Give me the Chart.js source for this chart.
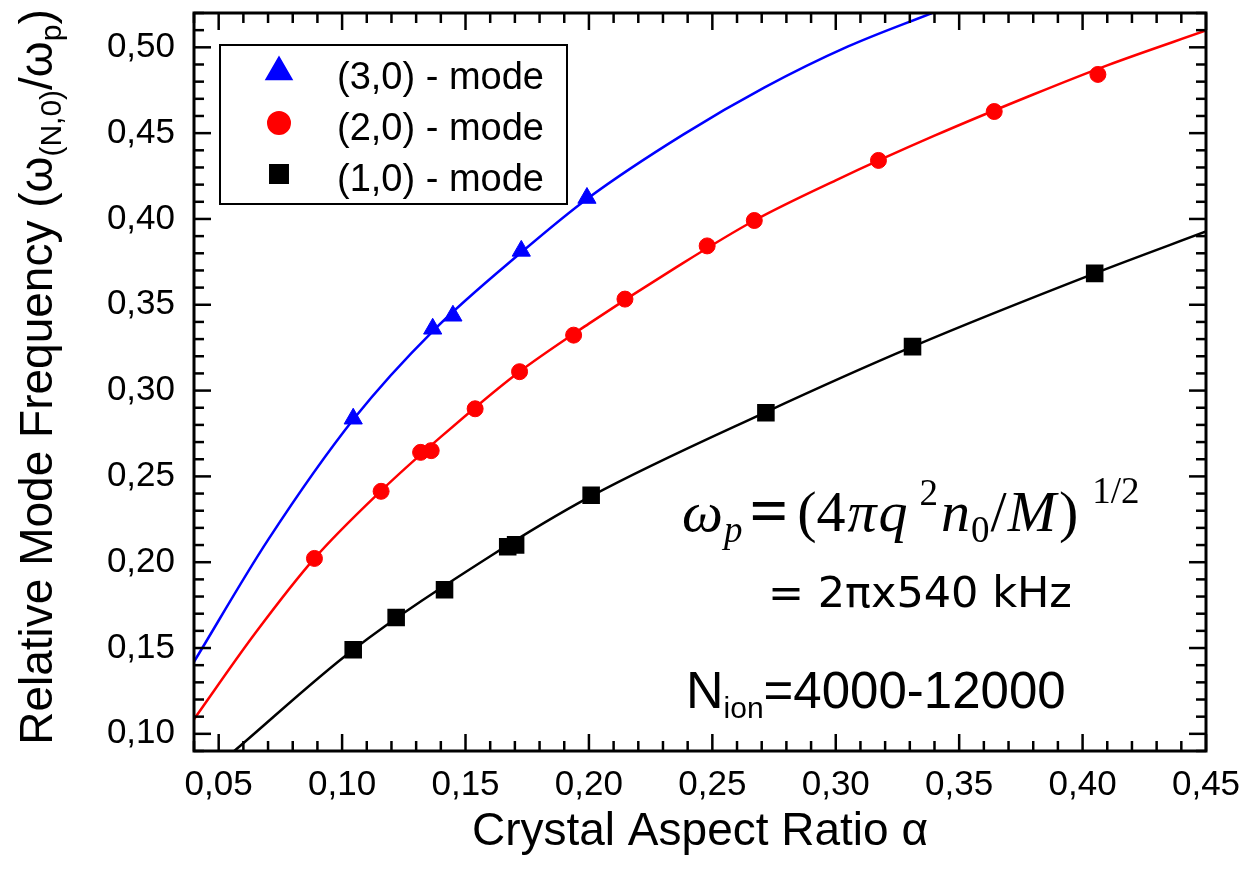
<!DOCTYPE html>
<html>
<head>
<meta charset="utf-8">
<script src="https://cdn.jsdelivr.net/npm/chart.js@4/dist/chart.umd.min.js"></script>
<style>
html,body{margin:0;padding:0;background:#fff;}
#wrap{position:relative;width:1249px;height:879px;}
</style>
</head>
<body>
<div id="wrap"><canvas id="c" width="1249" height="879"></canvas></div>
<script>
// ---------- data ----------
const xTickValues = [0.05, 0.10, 0.15, 0.20, 0.25, 0.30, 0.35, 0.40, 0.45];
const yTickValues = [0.10, 0.15, 0.20, 0.25, 0.30, 0.35, 0.40, 0.45, 0.50];

const seriesLabels = ['(3,0) - mode', '(2,0) - mode', '(1,0) - mode'];

const mode30Alpha = [0.1045, 0.1367, 0.1449, 0.1726, 0.1992];
const mode30Freq  = [0.2836, 0.3360, 0.3436, 0.3814, 0.4122];

const mode20Alpha = [0.0888, 0.1158, 0.1318, 0.1361, 0.1539, 0.1719, 0.1938, 0.2146, 0.2479, 0.2670, 0.3173, 0.3642, 0.4062];
const mode20Freq  = [0.2022, 0.2413, 0.2640, 0.2650, 0.2894, 0.3110, 0.3323, 0.3533, 0.3843, 0.3991, 0.4341, 0.4626, 0.4842];

const mode10Alpha = [0.1045, 0.1219, 0.1415, 0.1671, 0.1703, 0.2009, 0.2717, 0.3311, 0.4049];
const mode10Freq  = [0.1490, 0.1678, 0.1840, 0.2090, 0.2101, 0.2390, 0.2871, 0.3256, 0.3683];

// fitted curves
const fit30Alpha = [0.040, 0.070, 0.105, 0.137, 0.173, 0.200, 0.238, 0.271, 0.305, 0.339];
const fit30Freq  = [0.142, 0.213, 0.284, 0.335, 0.381, 0.4125, 0.449, 0.4765, 0.5005, 0.520];

const fit20Alpha = [0.040, 0.065, 0.0888, 0.115, 0.140, 0.170, 0.200, 0.235, 0.267, 0.300, 0.340, 0.380, 0.410, 0.450];
const fit20Freq  = [0.1085, 0.159, 0.2022, 0.2405, 0.273, 0.309, 0.339, 0.3715, 0.3991, 0.4225, 0.4485, 0.4725, 0.4895, 0.5098];

const fit10Alpha = [0.0563, 0.1045, 0.160, 0.2009, 0.2717, 0.3311, 0.4049, 0.450];
const fit10Freq  = [0.090, 0.149, 0.2035, 0.2385, 0.2875, 0.3256, 0.3683, 0.3927];

// ---------- helpers ----------
const SANS = '"Liberation Sans", Arial, Helvetica, sans-serif';
const SERIF = '"Liberation Serif", "Times New Roman", serif';
const pts = (xs, ys) => xs.map((v, i) => ({x: v, y: ys[i]}));
const fmt = v => Number(v).toFixed(2).replace('.', ',');

function drawRich(ctx, x, y, parts, align) {
  let w = 0;
  for (const p of parts) { ctx.font = p.f; p.w = ctx.measureText(p.t).width; w += p.w + (p.sp || 0); }
  let cx = align === 'center' ? x - w / 2 : x;
  for (const p of parts) {
    ctx.font = p.f;
    ctx.fillText(p.t, cx, y + (p.dy || 0));
    cx += p.w + (p.sp || 0);
  }
}

const BLUE = '#0000ff', RED = '#ff0000', BLACK = '#000000';

const framePlugin = {
  id: 'originFrame',
  afterDatasetsDraw(chart) {
    const {ctx, chartArea: a, scales: {x, y}} = chart;
    ctx.save();
    ctx.strokeStyle = '#000';
    ctx.lineWidth = 2.5;
    const seg = (x1, y1, x2, y2) => { ctx.beginPath(); ctx.moveTo(x1, y1); ctx.lineTo(x2, y2); ctx.stroke(); };
    for (let i = 4; i <= 45; i++) {
      const px = x.getPixelForValue(i / 100);
      const len = i % 5 === 0 ? 17 : 10;
      seg(px, a.bottom, px, a.bottom - len);
      seg(px, a.top, px, a.top + len);
    }
    for (let i = 9; i <= 52; i++) {
      const py = y.getPixelForValue(i / 100);
      const len = i % 5 === 0 ? 17 : 10;
      seg(a.left, py, a.left + len, py);
      seg(a.right, py, a.right - len, py);
    }
    ctx.lineWidth = 3;
    ctx.strokeRect(a.left, a.top, a.right - a.left, a.bottom - a.top);
    ctx.restore();
  }
};

const legendPlugin = {
  id: 'boxLegend',
  afterDraw(chart) {
    const ctx = chart.ctx;
    const items = chart.data.datasets.filter(d => d.inLegend);
    ctx.save();
    ctx.fillStyle = '#fff';
    ctx.fillRect(220, 45, 347, 159);
    ctx.lineWidth = 2;
    ctx.strokeStyle = '#000';
    ctx.strokeRect(220, 45, 347, 159);
    items.forEach((d, i) => {
      const rowY = 72 + i * 51;
      ctx.fillStyle = d.backgroundColor;
      ctx.strokeStyle = d.borderColor;
      Chart.helpers.drawPoint(ctx, {pointStyle: d.pointStyle, radius: d.legendRadius, rotation: 0, borderWidth: 1}, 279, rowY);
      ctx.fillStyle = '#000';
      ctx.font = '38px ' + SANS;
      ctx.textBaseline = 'alphabetic';
      ctx.textAlign = 'left';
      ctx.fillText(d.label, 337, rowY + 17);
    });
    ctx.restore();
  }
};

const textPlugin = {
  id: 'annotations',
  afterDraw(chart) {
    const ctx = chart.ctx;
    ctx.save();
    ctx.fillStyle = '#000';
    ctx.textBaseline = 'alphabetic';
    ctx.textAlign = 'left';
    // formula
    drawRich(ctx, 682, 531, [
      {t: 'ω', f: `italic 58px ${SERIF}`, sp: 1},
      {t: 'p', f: `italic 37px ${SERIF}`, dy: 11, sp: 7},
      {t: '=', f: `bold 68px ${SERIF}`, dy: 2, sp: 9},
      {t: '(4', f: `58px ${SERIF}`, sp: 2},
      {t: 'π', f: `italic 58px ${SERIF}`, sp: 2},
      {t: 'q', f: `italic 58px ${SERIF}`, sp: 12},
      {t: '2', f: `37px ${SERIF}`, dy: -26, sp: 3},
      {t: 'n', f: `italic 58px ${SERIF}`, sp: 1},
      {t: '0', f: `37px ${SERIF}`, dy: 11, sp: 1},
      {t: '/', f: `58px ${SERIF}`, sp: 1},
      {t: 'M', f: `italic 58px ${SERIF}`, sp: 3},
      {t: ')', f: `58px ${SERIF}`, sp: 14},
      {t: '1/2', f: `37px ${SERIF}`, dy: -28}
    ], 'left');
    // value line
    drawRich(ctx, 768, 607, [
      {t: '= 2πx540 kHz', f: `43px "DejaVu Sans", ${SANS}`}
    ], 'left');
    // ion number
    drawRich(ctx, 686, 708, [
      {t: 'N', f: `52px ${SANS}`},
      {t: 'ion', f: `30px ${SANS}`, dy: 10},
      {t: '=4000-12000', f: `51px ${SANS}`}
    ], 'left');
    // y title
    ctx.translate(52, 377);
    ctx.rotate(-Math.PI / 2);
    drawRich(ctx, 0, 0, [
      {t: 'Relative Mode Frequency (ω', f: `46px ${SANS}`},
      {t: '(N,0)', f: `30px ${SANS}`, dy: 9},
      {t: '/ω', f: `46px ${SANS}`},
      {t: 'p', f: `30px ${SANS}`, dy: 9},
      {t: ')', f: `46px ${SANS}`}
    ], 'center');
    ctx.restore();
  }
};

const tickFont = {family: SANS, size: 35};

new Chart(document.getElementById('c'), {
  type: 'scatter',
  data: {
    datasets: [
      {label: 'fit30', data: pts(fit30Alpha, fit30Freq), showLine: true, pointRadius: 0, borderColor: BLUE, borderWidth: 2.5, cubicInterpolationMode: 'monotone', fill: false},
      {label: 'fit20', data: pts(fit20Alpha, fit20Freq), showLine: true, pointRadius: 0, borderColor: RED, borderWidth: 2.5, cubicInterpolationMode: 'monotone', fill: false},
      {label: 'fit10', data: pts(fit10Alpha, fit10Freq), showLine: true, pointRadius: 0, borderColor: BLACK, borderWidth: 2.5, cubicInterpolationMode: 'monotone', fill: false},
      {label: seriesLabels[0], inLegend: true, legendRadius: 14.5, data: pts(mode30Alpha, mode30Freq), showLine: false, pointStyle: 'triangle', pointRadius: 10.5, backgroundColor: BLUE, borderColor: BLUE, borderWidth: 1},
      {label: seriesLabels[1], inLegend: true, legendRadius: 11, data: pts(mode20Alpha, mode20Freq), showLine: false, pointStyle: 'circle', pointRadius: 8, backgroundColor: RED, borderColor: RED, borderWidth: 1},
      {label: seriesLabels[2], inLegend: true, legendRadius: 12.7, data: pts(mode10Alpha, mode10Freq), showLine: false, pointStyle: 'rect', pointRadius: 11, backgroundColor: BLACK, borderColor: BLACK, borderWidth: 2}
    ]
  },
  options: {
    responsive: false,
    animation: false,
    devicePixelRatio: 1,
    layout: {padding: {top: 7, right: 43, left: 0, bottom: 0}},
    plugins: {legend: {display: false}, tooltip: {enabled: false}},
    scales: {
      x: {
        type: 'linear', min: 0.04, max: 0.45,
        afterBuildTicks: s => { s.ticks = xTickValues.map(v => ({value: v})); },
        afterFit: s => { s.height = 128; s.paddingLeft = 0; s.paddingRight = 0; },
        grid: {display: false, drawTicks: false},
        border: {display: false},
        ticks: {font: tickFont, color: '#000', padding: 13, maxRotation: 0, autoSkip: false, callback: v => fmt(v)},
        title: {display: true, text: 'Crystal Aspect Ratio α', color: '#000', font: {family: SANS, size: 46}, padding: {top: 0, bottom: 19}}
      },
      y: {
        type: 'linear', min: 0.09, max: 0.52,
        afterBuildTicks: s => { s.ticks = yTickValues.map(v => ({value: v})); },
        afterFit: s => { s.width = 194; s.paddingTop = 0; s.paddingBottom = 0; },
        grid: {display: false, drawTicks: false},
        border: {display: false},
        ticks: {font: tickFont, color: '#000', padding: 19, autoSkip: false, callback: v => fmt(v)}
      }
    }
  },
  plugins: [framePlugin, legendPlugin, textPlugin]
});
</script>
</body>
</html>
